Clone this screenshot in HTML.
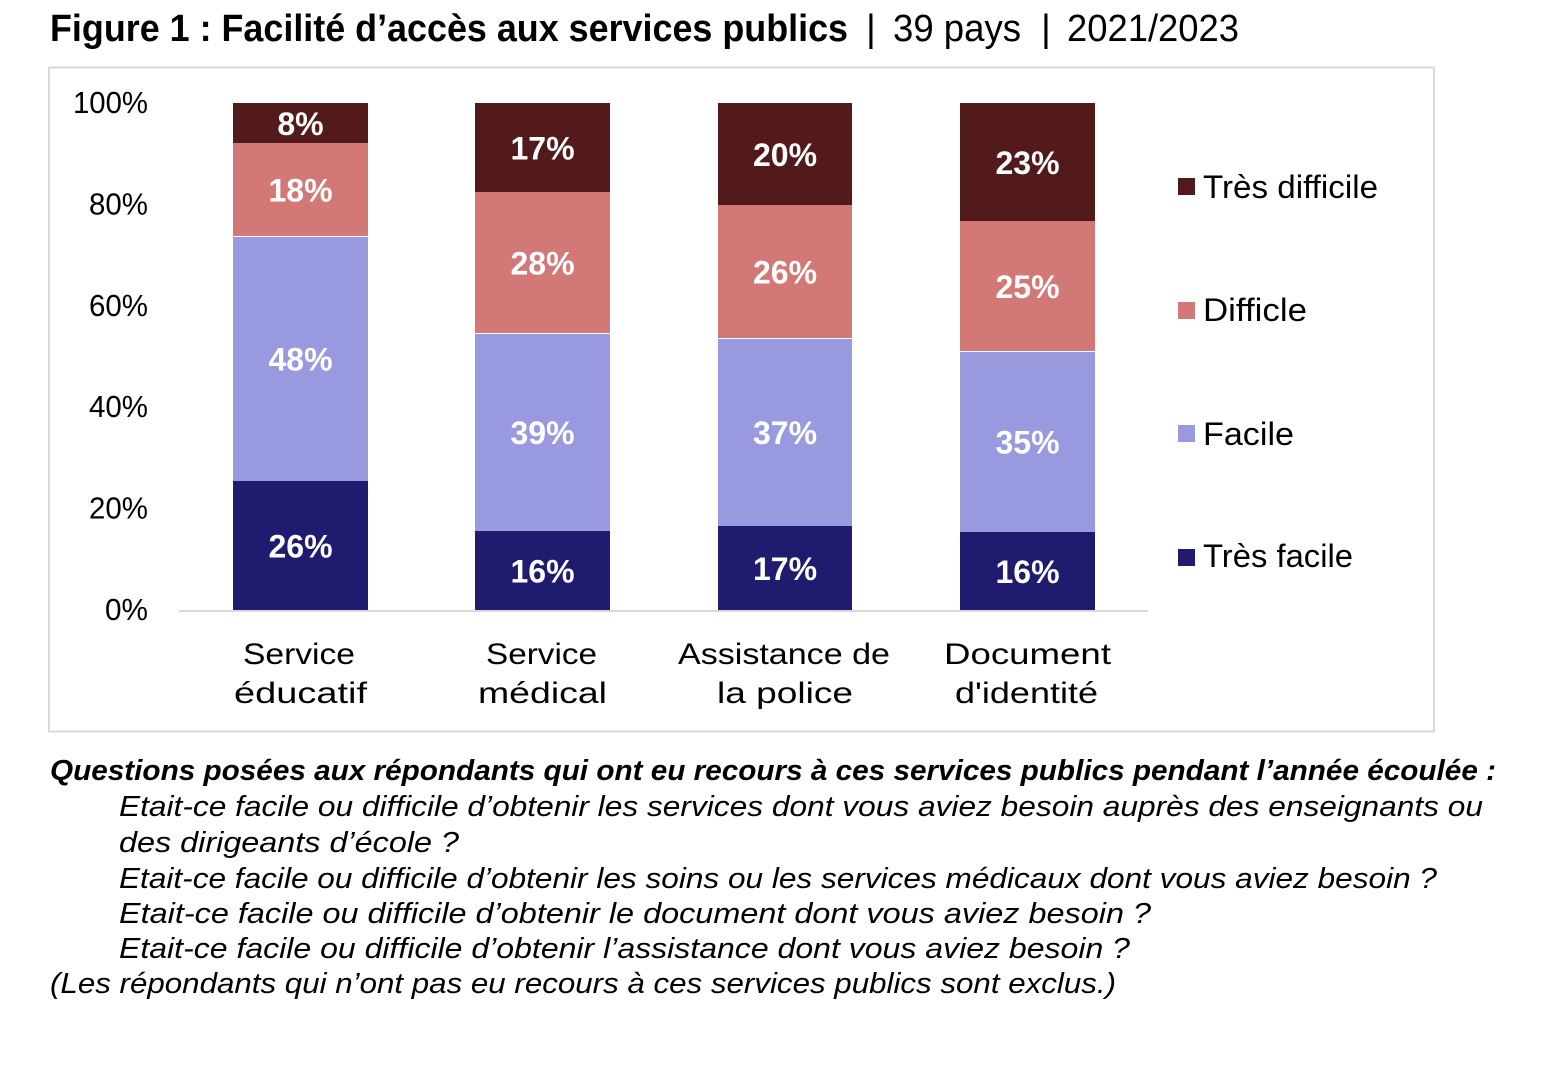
<!DOCTYPE html>
<html><head><meta charset="utf-8"><style>
html,body{margin:0;padding:0;background:#fff;}
svg{display:block;}
text{font-family:"Liberation Sans",sans-serif;}
</style></head><body>
<svg width="1542" height="1090" viewBox="0 0 1542 1090" xmlns="http://www.w3.org/2000/svg">
<rect x="0" y="0" width="1542" height="1090" fill="#fff"/>
<!-- Title -->
<text x="50" y="41" font-size="38" font-weight="bold" fill="#000" textLength="798" lengthAdjust="spacingAndGlyphs">Figure 1 : Facilité d’accès aux services publics</text>
<text x="866" y="41" font-size="38" fill="#000">|</text>
<text x="893" y="41" font-size="38" fill="#000" textLength="128" lengthAdjust="spacingAndGlyphs">39 pays</text>
<text x="1041" y="41" font-size="38" fill="#000">|</text>
<text x="1067" y="41" font-size="38" fill="#000" textLength="172" lengthAdjust="spacingAndGlyphs">2021/2023</text>
<!-- Chart box -->
<rect x="49" y="67.5" width="1385" height="664" fill="none" stroke="#d9d9d9" stroke-width="2"/>
<!-- Y labels -->
<g font-size="31" fill="#000" text-anchor="end">
<text x="148" y="113" textLength="75" lengthAdjust="spacingAndGlyphs">100%</text>
<text x="148" y="214.4" textLength="59" lengthAdjust="spacingAndGlyphs">80%</text>
<text x="148" y="315.8" textLength="59" lengthAdjust="spacingAndGlyphs">60%</text>
<text x="148" y="417.2" textLength="59" lengthAdjust="spacingAndGlyphs">40%</text>
<text x="148" y="518.6" textLength="59" lengthAdjust="spacingAndGlyphs">20%</text>
<text x="148" y="620" textLength="43" lengthAdjust="spacingAndGlyphs">0%</text>
</g>
<!-- Bars -->
<g>
<rect x="233" y="481" width="135" height="129" fill="#1F1B6E"/>
<rect x="233" y="236" width="135" height="245" fill="#9999E0"/>
<rect x="233" y="143" width="135" height="93" fill="#D27876"/>
<rect x="233" y="103" width="135" height="40" fill="#521A1B"/>
<line x1="233" y1="236.5" x2="368" y2="236.5" stroke="#fff" stroke-width="1"/>

<rect x="475" y="531" width="135" height="79" fill="#1F1B6E"/>
<rect x="475" y="333" width="135" height="198" fill="#9999E0"/>
<rect x="475" y="192" width="135" height="141" fill="#D27876"/>
<rect x="475" y="103" width="135" height="89" fill="#521A1B"/>
<line x1="475" y1="333.5" x2="610" y2="333.5" stroke="#fff" stroke-width="1"/>

<rect x="718" y="526" width="134" height="84" fill="#1F1B6E"/>
<rect x="718" y="338" width="134" height="188" fill="#9999E0"/>
<rect x="718" y="205" width="134" height="133" fill="#D27876"/>
<rect x="718" y="103" width="134" height="102" fill="#521A1B"/>
<line x1="718" y1="338.5" x2="852" y2="338.5" stroke="#fff" stroke-width="1"/>

<rect x="960" y="532" width="135" height="78" fill="#1F1B6E"/>
<rect x="960" y="351" width="135" height="181" fill="#9999E0"/>
<rect x="960" y="221" width="135" height="130" fill="#D27876"/>
<rect x="960" y="103" width="135" height="118" fill="#521A1B"/>
<line x1="960" y1="351.5" x2="1095" y2="351.5" stroke="#fff" stroke-width="1"/>
</g>
<!-- Baseline -->
<line x1="179" y1="611" x2="1148" y2="611" stroke="#d9d9d9" stroke-width="2"/>
<!-- Data labels -->
<g font-size="32" font-weight="bold" fill="#fff" text-anchor="middle">
<text x="300.5" y="557.5">26%</text>
<text x="300.5" y="370.5">48%</text>
<text x="300.5" y="201.5">18%</text>
<text x="300.5" y="135">8%</text>

<text x="542.5" y="582.5">16%</text>
<text x="542.5" y="444">39%</text>
<text x="542.5" y="274.5">28%</text>
<text x="542.5" y="159.5">17%</text>

<text x="785" y="580">17%</text>
<text x="785" y="444">37%</text>
<text x="785" y="283.5">26%</text>
<text x="785" y="166">20%</text>

<text x="1027.5" y="583">16%</text>
<text x="1027.5" y="453.5">35%</text>
<text x="1027.5" y="298">25%</text>
<text x="1027.5" y="174">23%</text>
</g>
<!-- X labels -->
<g font-size="30" fill="#000">
<text x="243" y="664" textLength="112" lengthAdjust="spacingAndGlyphs">Service</text>
<text x="234" y="703" textLength="133" lengthAdjust="spacingAndGlyphs">éducatif</text>
<text x="486" y="664" textLength="111" lengthAdjust="spacingAndGlyphs">Service</text>
<text x="478" y="703" textLength="129" lengthAdjust="spacingAndGlyphs">médical</text>
<text x="678" y="664" textLength="212" lengthAdjust="spacingAndGlyphs">Assistance de</text>
<text x="717" y="703" textLength="136" lengthAdjust="spacingAndGlyphs">la police</text>
<text x="944" y="664" textLength="167" lengthAdjust="spacingAndGlyphs">Document</text>
<text x="955" y="703" textLength="143" lengthAdjust="spacingAndGlyphs">d'identité</text>
</g>
<!-- Legend -->
<rect x="1178" y="178" width="17" height="17" fill="#521A1B"/>
<rect x="1178" y="302" width="17" height="17" fill="#D27876"/>
<rect x="1178" y="425" width="17" height="17" fill="#9999E0"/>
<rect x="1178" y="549" width="17" height="17" fill="#1F1B6E"/>
<g font-size="32" fill="#000">
<text x="1203" y="198" textLength="175" lengthAdjust="spacingAndGlyphs">Très difficile</text>
<text x="1203" y="321" textLength="104" lengthAdjust="spacingAndGlyphs">Difficle</text>
<text x="1203" y="445" textLength="91" lengthAdjust="spacingAndGlyphs">Facile</text>
<text x="1203" y="567" textLength="150" lengthAdjust="spacingAndGlyphs">Très facile</text>
</g>
<!-- Footnote -->
<g font-size="29" font-style="italic" fill="#000">
<text x="50" y="780" font-weight="bold" textLength="1446" lengthAdjust="spacingAndGlyphs">Questions posées aux répondants qui ont eu recours à ces services publics pendant l’année écoulée :</text>
<text x="119" y="816" textLength="1364" lengthAdjust="spacingAndGlyphs">Etait-ce facile ou difficile d’obtenir les services dont vous aviez besoin auprès des enseignants ou</text>
<text x="119" y="852" textLength="340" lengthAdjust="spacingAndGlyphs">des dirigeants d’école ?</text>
<text x="119" y="888" textLength="1318" lengthAdjust="spacingAndGlyphs">Etait-ce facile ou difficile d’obtenir les soins ou les services médicaux dont vous aviez besoin ?</text>
<text x="119" y="923" textLength="1032" lengthAdjust="spacingAndGlyphs">Etait-ce facile ou difficile d’obtenir le document dont vous aviez besoin ?</text>
<text x="119" y="958" textLength="1011" lengthAdjust="spacingAndGlyphs">Etait-ce facile ou difficile d’obtenir l’assistance dont vous aviez besoin ?</text>
<text x="50" y="993" textLength="1066" lengthAdjust="spacingAndGlyphs">(Les répondants qui n’ont pas eu recours à ces services publics sont exclus.)</text>
</g>
</svg>
</body></html>
